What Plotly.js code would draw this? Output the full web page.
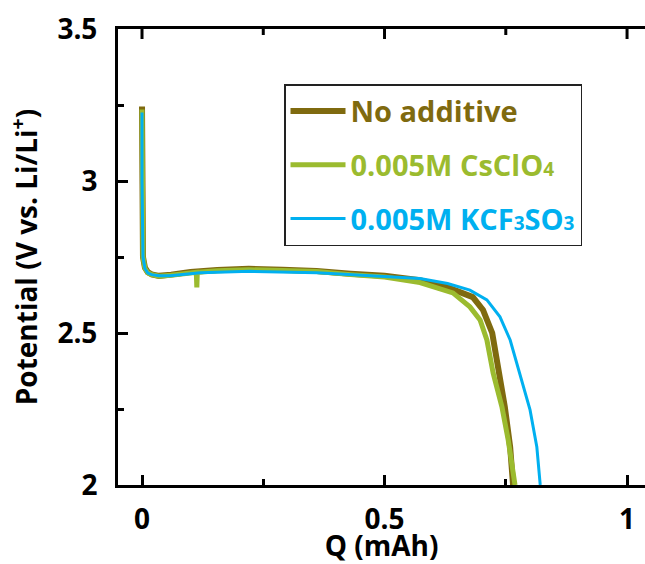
<!DOCTYPE html>
<html>
<head>
<meta charset="utf-8">
<script src="https://cdn.plot.ly/plotly-3.0.1.min.js"></script>
<style>html,body{margin:0;padding:0;background:#fff;}#chart{width:645px;height:564px;}</style>
</head>
<body>
<div id="chart"></div>
<script>
// Series names
const seriesNames = [
  '<span style="color:#7F6A0F">No additive</span>',
  '<span style="color:#9BBB2F">0.005M CsClO<span style="font-size:19px">4</span></span>',
  '<span style="color:#00B0F0">0.005M KCF<span style="font-size:19px">3</span>SO<span style="font-size:19px">3</span></span>'
];
const seriesColors = ['#7F6A0F', '#9BBB2F', '#00B0F0'];

// No additive
const noAddQ = [0, 0, 0.002, 0.006, 0.012, 0.02, 0.035, 0.06, 0.1, 0.155, 0.22, 0.29, 0.36, 0.43, 0.5, 0.573, 0.63, 0.682, 0.703, 0.722, 0.734, 0.748, 0.759, 0.765];
const noAddV = [3.245, 3.0, 2.75, 2.715, 2.70, 2.693, 2.688, 2.692, 2.701, 2.707, 2.711, 2.708, 2.704, 2.695, 2.688, 2.674, 2.65, 2.618, 2.576, 2.50, 2.388, 2.257, 2.125, 2.0];

// 0.005M CsClO4
const csQ = [0, 0, 0.002, 0.006, 0.012, 0.02, 0.035, 0.06, 0.1, 0.112, 0.113, 0.114, 0.155, 0.22, 0.29, 0.36, 0.43, 0.5, 0.573, 0.641, 0.676, 0.697, 0.711, 0.724, 0.742, 0.755, 0.769];
const csV = [3.235, 3.0, 2.75, 2.713, 2.698, 2.692, 2.687, 2.690, 2.698, 2.70, 2.65, 2.70, 2.705, 2.708, 2.706, 2.702, 2.692, 2.684, 2.666, 2.632, 2.586, 2.543, 2.477, 2.368, 2.257, 2.148, 2.0];

// 0.005M KCF3SO3
const kQ = [0, 0, 0.002, 0.006, 0.012, 0.02, 0.035, 0.058, 0.12, 0.223, 0.361, 0.497, 0.573, 0.63, 0.676, 0.711, 0.738, 0.759, 0.779, 0.8, 0.814, 0.821];
const kV = [3.225, 3.0, 2.75, 2.712, 2.697, 2.692, 2.688, 2.688, 2.698, 2.703, 2.698, 2.685, 2.679, 2.663, 2.641, 2.609, 2.553, 2.477, 2.368, 2.247, 2.125, 2.0];

const xTickVals = [0, 0.5, 1];
const xTickText = ['0', '0.5', '1'];
const xMinorVals = [0.25, 0.75];
const yTickVals = [2, 2.5, 3, 3.5];
const yTickText = ['2', '2.5', '3', '3.5'];

const font = {family: '"Open Sans", sans-serif', weight: 700, color: '#000'};
const xRange = [-0.0495, 1.037];
const yRange = [2, 3.5];

const traces = [
  {x: noAddQ, y: noAddV, name: seriesNames[0], line: {color: seriesColors[0], width: 6}},
  {x: csQ, y: csV, name: seriesNames[1], line: {color: seriesColors[1], width: 5}},
  {x: kQ, y: kV, name: seriesNames[2], line: {color: seriesColors[2], width: 3}}
].map((t, i) => Object.assign({type: 'scatter', mode: 'lines', legendgroup: 'g' + i}, t));

// top-frame tick marks (mirrored x ticks), built from the tick arrays; length in axis units
const plotH = 564 - 29 - 79;
const pxToV = (yRange[1] - yRange[0]) / plotH;
const topX = [], topY = [];
xTickVals.forEach(v => { topX.push(v, v, null); topY.push(yRange[1], yRange[1] - 10 * pxToV, null); });
xMinorVals.forEach(v => { topX.push(v, v, null); topY.push(yRange[1], yRange[1] - 6 * pxToV, null); });
traces.push({type: 'scatter', mode: 'lines', x: topX, y: topY, line: {color: '#000', width: 3},
  showlegend: false, hoverinfo: 'skip', cliponaxis: false, connectgaps: false});

const tickStyle = {ticks: 'inside', ticklen: 10, tickwidth: 3, tickcolor: '#000'};
const minorStyle = {ticks: 'inside', ticklen: 6, tickwidth: 3, tickcolor: '#000'};

const layout = {
  width: 645, height: 564,
  margin: {l: 118, r: 0, t: 29, b: 79},
  paper_bgcolor: '#fff', plot_bgcolor: '#fff',
  font: Object.assign({size: 28}, font),
  showlegend: true,
  legend: {
    x: 0.315, y: 0.879, xanchor: 'left', yanchor: 'top',
    bgcolor: '#fff', bordercolor: '#222', borderwidth: 1.5,
    font: Object.assign({size: 29}, font),
    itemwidth: 55, tracegroupgap: 13, traceorder: 'grouped'
  },
  xaxis: Object.assign({
    range: xRange,
    tickmode: 'array', tickvals: xTickVals, ticktext: xTickText,
    minor: Object.assign({tickmode: 'array', tickvals: xMinorVals}, minorStyle),
    showline: true, linewidth: 3, linecolor: '#000', mirror: true,
    showgrid: false, zeroline: false,
    tickfont: Object.assign({size: 28}, font),
    ticklabelstandoff: 7,
    title: {text: 'Q (mAh)', font: Object.assign({size: 28}, font), standoff: 4}
  }, tickStyle),
  yaxis: Object.assign({
    range: yRange,
    tickmode: 'array', tickvals: yTickVals, ticktext: yTickText,
    minor: Object.assign({dtick: 0.25, tick0: 2}, minorStyle),
    showline: true, linewidth: 3, linecolor: '#000',
    showgrid: false, zeroline: false,
    tickfont: Object.assign({size: 28}, font),
    ticklabelstandoff: 12,
    title: {text: 'Potential (V vs. Li/Li<sup>+</sup>)', font: Object.assign({size: 28}, font), standoff: 12}
  }, tickStyle)
};

Plotly.newPlot('chart', traces, layout, {displayModeBar: false, staticPlot: true});
</script>
</body>
</html>
